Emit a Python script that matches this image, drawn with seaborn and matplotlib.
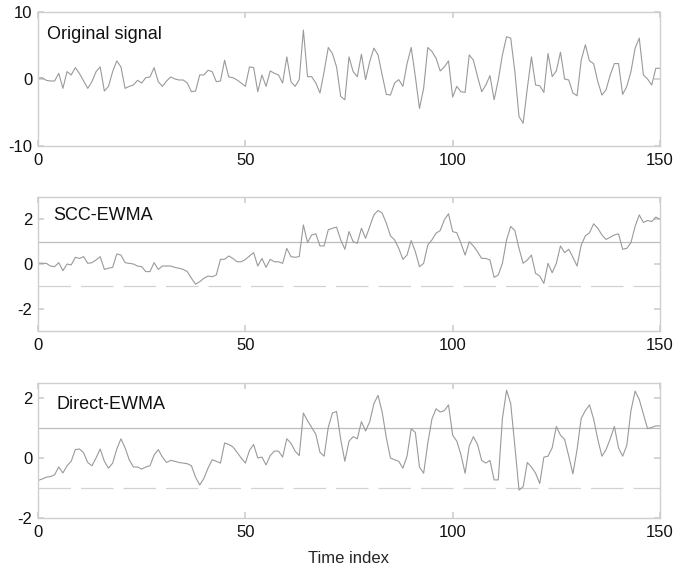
import numpy as np
import pandas as pd
import matplotlib
matplotlib.use("Agg")
import matplotlib.pyplot as plt
import seaborn as sns

# values, one per time index 0..150
original = [0.1, 0.2, -0.2, -0.3, -0.3, 0.85, -1.4, 1.1, 0.6, 1.7,
            0.8, -0.3, -1.4, -0.4, 1.1, 1.8, -1.8, -1.1, 1.1, 2.7,
            1.8, -1.4, -1.1, -0.9, -0.2, -0.6, 0.2, 0.3, 1.7, -0.4,
            -1.1, -0.3, 0.3, 0.0, -0.15, -0.15, -0.6, -1.9, -1.8, 0.6,
            0.6, 1.3, 1.1, -0.4, -0.3, 2.8, 0.3, 0.2, -0.15, -0.6,
            -1.1, 1.8, 1.7, -1.9, 0.6, -1.1, 1.2, 0.85, 0.6, -0.6,
            3.3, -0.4, -1.1, -0.1, 7.3, 0.35, 0.35, -0.6, -2.1, 1.1,
            4.7, 3.8, 1.8, -2.6, -3.1, 3.3, 1.1, 0.35, 3.7, -0.1,
            2.6, 4.6, 3.6, 0.6, -2.3, -2.4, -0.6, -0.1, -1.1, 2.3,
            4.7, 0.35, -4.4, -1.4, 4.7, 4.1, 3.1, 1.2, 1.8, 2.7,
            -2.7, -1.1, -1.9, -2.0, 3.6, 2.8, 0.35, -1.9, -0.9, 0.5,
            -3.1, -0.15, 3.6, 6.3, 6.1, 1.1, -5.6, -6.6, -1.4, 3.3,
            -0.9, -1.0, -2.0, 3.8, 0.35, 1.2, 4.0, 0.0, -0.15, -2.1,
            -2.5, 2.8, 5.1, 2.7, 2.3, -0.4, -2.4, -1.6, 0.6, 2.3,
            2.3, -2.3, -1.1, 1.1, 4.6, 6.1, 0.6, 0.0, -0.9, 1.6, 1.6]

scc_ewma = [0.05, 0.03, 0.03, -0.09, -0.12, 0.06, -0.3, 0.0, -0.04, 0.3,
            0.25, 0.33, 0.03, 0.06, 0.18, 0.33, -0.24, -0.19, -0.15, 0.45,
            0.4, 0.06, 0.03, 0.0, -0.09, -0.12, -0.34, -0.34, 0.06, -0.24,
            -0.09, -0.09, -0.09, -0.15, -0.19, -0.24, -0.34, -0.64, -0.9, -0.79,
            -0.64, -0.54, -0.57, -0.49, 0.21, 0.21, 0.36, 0.25, 0.1, 0.1,
            0.2, 0.36, 0.51, -0.09, 0.25, -0.15, 0.21, 0.1, 0.1, 0.03,
            0.7, 0.33, 0.3, 0.33, 1.75, 0.96, 1.3, 1.35, 0.81, 0.81,
            1.53, 1.6, 1.65, 1.08, 0.66, 1.45, 1.0, 0.93, 1.6, 1.15,
            1.68, 2.2, 2.4, 2.28, 1.83, 1.26, 1.08, 0.7, 0.21, 0.4,
            1.05, 0.55, -0.12, 0.03, 0.85, 1.08, 1.38, 1.5, 1.98, 2.25,
            1.45, 1.4, 0.93, 0.4, 1.0, 0.81, 0.55, 0.25, 0.25, 0.18,
            -0.6, -0.49, 0.03, 1.08, 1.68, 1.5, 0.7, 0.03, 0.18, 0.4,
            -0.42, -0.54, -0.87, 0.03, -0.39, 0.03, 0.81, 0.51, 0.66, 0.3,
            -0.09, 0.85, 1.26, 1.4, 1.8, 1.6, 1.3, 1.1, 1.2, 1.3,
            1.35, 0.66, 0.7, 0.96, 1.68, 2.2, 1.86, 1.95, 1.9, 2.1, 2.0]

direct_ewma = [-0.75, -0.7, -0.64, -0.62, -0.56, -0.3, -0.5, -0.26, -0.11, 0.28,
               0.3, 0.17, -0.15, -0.26, 0.0, 0.3, -0.11, -0.34, -0.17, 0.3,
               0.64, 0.34, -0.06, -0.3, -0.3, -0.37, -0.3, -0.26, 0.1, 0.28,
               0.03, -0.15, -0.08, -0.11, -0.15, -0.17, -0.19, -0.26, -0.64, -0.9,
               -0.68, -0.34, -0.06, -0.11, -0.17, 0.5, 0.45, 0.37, 0.19, 0.0,
               -0.17, 0.25, 0.45, 0.0, 0.03, -0.23, 0.08, 0.23, 0.23, 0.03,
               0.64, 0.49, 0.23, 0.08, 1.5, 1.24, 1.02, 0.79, 0.19, 0.06,
               1.02, 1.5, 1.55, 0.62, -0.11, 0.56, 0.71, 0.64, 1.21, 0.9,
               1.21, 1.81, 2.09, 1.53, 0.68, 0.0, -0.06, -0.11, -0.34, 0.06,
               0.98, 0.85, -0.3, -0.51, 0.49, 1.3, 1.64, 1.53, 1.58, 1.77,
               0.76, 0.56, 0.11, -0.51, 0.4, 0.71, 0.45, -0.08, -0.17, -0.08,
               -0.73, -0.73, 1.32, 2.26, 1.81, 0.4, -1.07, -0.96, -0.15, -0.3,
               -0.51, -0.85, 0.03, 0.06, 0.34, 1.05, 0.76, 0.62, 0.06, -0.53,
               0.28, 1.32, 1.58, 1.77, 1.3, 0.62, 0.06, 0.28, 0.64, 1.05,
               0.34, 0.06, 0.42, 1.58, 2.23, 1.95, 1.47, 0.98, 1.02, 1.07, 1.07]

panel_titles = ["Original signal", "SCC-EWMA", "Direct-EWMA"]
y_limits = [(-10, 10), (-3, 3), (-2, 2.5)]
y_ticks = [[-10, 0, 10], [-2, 0, 2], [-2, 0, 2]]
x_ticks = [0, 50, 100, 150]
control_limits = [1, -1]

sns.set_theme(style="ticks")
plt.rcParams["font.family"] = ["Liberation Sans", "DejaVu Sans"]
plt.rcParams["axes.unicode_minus"] = False

df = pd.DataFrame({"t": np.arange(len(original)),
                   "Original signal": original,
                   "SCC-EWMA": scc_ewma,
                   "Direct-EWMA": direct_ewma})

fig = plt.figure(figsize=(6.74, 5.73), dpi=100)
boxes = [[0.0564, 0.7452, 0.9228, 0.2339],
         [0.0564, 0.4223, 0.9228, 0.2339],
         [0.0564, 0.0960, 0.9228, 0.2356]]
label_pos = [(0.015, 0.83), (0.024, 0.862), (0.030, 0.837)]

line_col = "#9a9a9a"
box_col = "#cfcfcf"

for i, name in enumerate(panel_titles):
    ax = fig.add_axes(boxes[i])
    if i > 0:
        ax.axhline(control_limits[0], color="#bdbdbd", lw=0.9, zorder=1)
        ax.axhline(control_limits[1], color="#d2d2d2", lw=0.9,
                   dashes=(26, 8), zorder=1)
    sns.lineplot(data=df, x="t", y=name, ax=ax, color=line_col,
                 linewidth=0.8, estimator=None, zorder=2)
    ax.set_xlim(0, 150)
    ax.set_ylim(*y_limits[i])
    ax.set_xticks(x_ticks)
    ax.set_yticks(y_ticks[i])
    ax.set_ylabel("")
    ax.set_xlabel("Time index" if i == 2 else "", fontsize=12, labelpad=8)
    ax.tick_params(direction="in", top=True, right=True, length=4.5,
                   color=box_col, labelsize=12, labelcolor="#111111")
    ax.tick_params(axis="x", pad=5)
    ax.tick_params(axis="y", pad=4)
    for sp in ax.spines.values():
        sp.set_color(box_col)
        sp.set_linewidth(1.0)
    ax.text(label_pos[i][0], label_pos[i][1], name, transform=ax.transAxes,
            fontsize=13, color="#111111", ha="left", va="center")

fig.savefig("out.png", dpi=100)
